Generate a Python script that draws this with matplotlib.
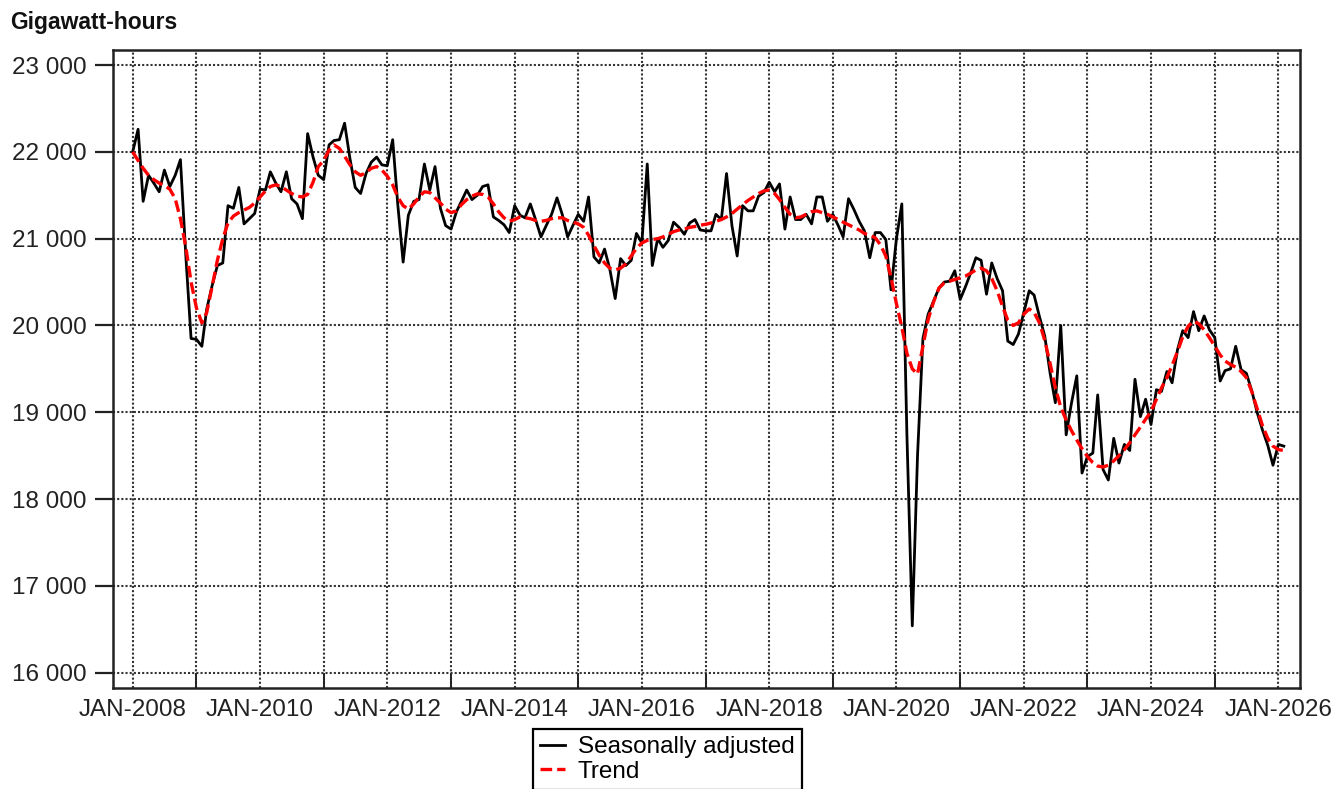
import numpy as np
import pandas as pd
import matplotlib
matplotlib.use("Agg")
import matplotlib.pyplot as plt
import matplotlib.dates as mdates
from matplotlib.ticker import FuncFormatter, MultipleLocator

plt.rcParams['font.family'] = ['Liberation Sans', 'DejaVu Sans']

# monthly values, Jan 2008 .. Feb 2026 (GWh)
seasonally_adjusted = [
    22000, 22260, 21430, 21730, 21640, 21540, 21790, 21600, 21730, 21910, 20800, 19850,  # 2008
    19840, 19760, 20190, 20460, 20690, 20720, 21380, 21350, 21590, 21170, 21230, 21290,  # 2009
    21570, 21560, 21770, 21640, 21540, 21770, 21460, 21400, 21230, 22210, 21940, 21730,  # 2010
    21680, 22080, 22130, 22140, 22330, 21920, 21590, 21520, 21750, 21880, 21940, 21850,  # 2011
    21840, 22140, 21400, 20730, 21270, 21430, 21450, 21860, 21560, 21830, 21350, 21150,  # 2012
    21110, 21310, 21430, 21560, 21450, 21500, 21600, 21620, 21250, 21210, 21160, 21070,  # 2013
    21380, 21270, 21240, 21400, 21220, 21020, 21150, 21280, 21470, 21280, 21020, 21150,  # 2014
    21280, 21200, 21480, 20790, 20720, 20880, 20650, 20310, 20770, 20690, 20750, 21060,  # 2015
    20950, 21860, 20690, 21000, 20900, 20980, 21190, 21130, 21050, 21180, 21220, 21100,  # 2016
    21090, 21090, 21280, 21220, 21750, 21150, 20800, 21380, 21320, 21320, 21490, 21530,  # 2017
    21650, 21540, 21630, 21110, 21480, 21220, 21220, 21280, 21170, 21480, 21480, 21200,  # 2018
    21280, 21150, 21020, 21460, 21340, 21200, 21090, 20780, 21070, 21070, 20990, 20410,  # 2019
    21000, 21400, 18750, 16540, 18500, 19850, 20130, 20280, 20430, 20500, 20510, 20630,  # 2020
    20300, 20450, 20600, 20780, 20750, 20360, 20720, 20540, 20400, 19820, 19780, 19900,  # 2021
    20150, 20400, 20350, 20100, 19880, 19450, 19110, 20000, 18740, 19100, 19420, 18300,  # 2022
    18490, 18530, 19200, 18340, 18220, 18700, 18415, 18630, 18560, 19380, 18950, 19150,  # 2023
    18860, 19260, 19240, 19470, 19340, 19720, 19940, 19860, 20160, 19940, 20110, 19950,  # 2024
    19860, 19360, 19480, 19500, 19760, 19490, 19450, 19250, 19000, 18800, 18620, 18390,  # 2025
    18630, 18610,                                                                        # 2026
]

trend = [
    22000, 21900, 21810, 21730, 21680, 21640, 21610, 21570, 21460, 21230, 20900, 20500,
    20200, 20030, 20150, 20450, 20750, 21000, 21180, 21260, 21300, 21330, 21360, 21410,
    21480, 21550, 21600, 21620, 21600, 21560, 21520, 21490, 21480, 21510, 21650, 21830,
    21900, 22020, 22080, 22040, 21950, 21850, 21770, 21730, 21760, 21810, 21830, 21790,
    21720, 21620, 21480, 21380, 21340, 21400, 21480, 21540, 21530, 21470, 21410, 21340,
    21300, 21320, 21390, 21450, 21490, 21515, 21510, 21480, 21400, 21310, 21240, 21200,
    21220, 21250, 21240, 21230, 21210, 21200, 21210, 21230, 21240, 21240, 21210, 21190,
    21170, 21130, 21040, 20920, 20810, 20720, 20660, 20640, 20660, 20710, 20800, 20890,
    20950, 20980, 20990, 21000, 21020, 21050, 21080, 21100, 21110, 21130, 21140, 21155,
    21165, 21180, 21200, 21220, 21250, 21290, 21340, 21390, 21440, 21480, 21520, 21550,
    21560, 21520, 21450, 21360, 21280, 21240, 21250, 21280, 21310, 21320, 21300, 21280,
    21250, 21220, 21190, 21160, 21130, 21100, 21060, 21040, 21010, 20930, 20800, 20550,
    20250, 19980, 19680, 19500, 19440, 19760, 20070, 20270, 20430, 20490, 20510, 20530,
    20550, 20570, 20600, 20640, 20660, 20630, 20540, 20400, 20220, 20060, 20000, 20030,
    20130, 20190, 20150, 20030, 19830, 19560, 19280, 19060, 18910, 18790, 18680, 18580,
    18490, 18420, 18380, 18370, 18390, 18440, 18500, 18570, 18650, 18740, 18830, 18920,
    19010, 19150, 19280, 19400, 19540, 19700, 19870, 19990, 20050, 20020, 19950, 19860,
    19760, 19660, 19590, 19550, 19520, 19470, 19400, 19240, 19040, 18850, 18700, 18610,
    18570, 18560,
]

months = pd.date_range("2008-01-01", periods=len(seasonally_adjusted), freq="MS")

W, H = 1334, 789
fig = plt.figure(figsize=(W / 100, H / 100), dpi=100)
ax = fig.add_axes([113 / W, 1 - 688 / H, (1300 - 113) / W, (688 - 50) / H])

l1, = ax.plot(months, seasonally_adjusted, color="black", lw=2.0, zorder=3,
              label="Seasonally adjusted")
l2, = ax.plot(months, trend, color="#ff0000", lw=2.4, dashes=(3.5, 1.5), zorder=4,
              label="Trend")

ax.set_xlim(pd.Timestamp("2007-09-10"), pd.Timestamp("2026-05-05"))
ax.set_ylim(15824, 23173)

ax.yaxis.set_major_locator(MultipleLocator(1000))
ax.yaxis.set_major_formatter(FuncFormatter(lambda v, p: f"{int(v):,}".replace(",", " ")))

ax.xaxis.set_major_locator(mdates.YearLocator(2, month=1, day=1))
ax.xaxis.set_minor_locator(mdates.YearLocator(1, month=1, day=1))
ax.xaxis.set_major_formatter(FuncFormatter(
    lambda v, p: "JAN-" + mdates.num2date(v).strftime("%Y")))

gridstyle = dict(color="#333333", lw=1.5, linestyle=(0, (1, 1)))
ax.grid(True, which="major", axis="both", **gridstyle)
ax.grid(True, which="minor", axis="x", **gridstyle)
ax.set_axisbelow(True)

ax.tick_params(axis="y", which="major", direction="out", length=13, width=1.6,
               pad=6, labelsize=17.5, colors="#222222")
ax.tick_params(axis="x", which="major", length=0, pad=8, labelsize=17.5,
               colors="#222222")
ax.tick_params(axis="x", which="minor", direction="in", length=11, width=1.4,
               color="#222222")

for s in ax.spines.values():
    s.set_linewidth(1.8)
    s.set_color("#222222")

fig.text(10 / W, 1 - 22 / H, "Gigawatt-hours", fontsize=16.5, fontweight="bold",
         va="center", ha="left", color="#111111")

leg = fig.legend(handles=[l1, l2], loc="upper left",
                 bbox_to_anchor=(533 / W, 1 - 729 / H), bbox_transform=fig.transFigure,
                 fontsize=17.5, frameon=True, fancybox=False, framealpha=1,
                 edgecolor="black", borderpad=0.3, labelspacing=0.1,
                 handlelength=1.0, handletextpad=0.55, borderaxespad=0)
leg.get_frame().set_linewidth(1.6)

fig.savefig("out.png", dpi=100)
